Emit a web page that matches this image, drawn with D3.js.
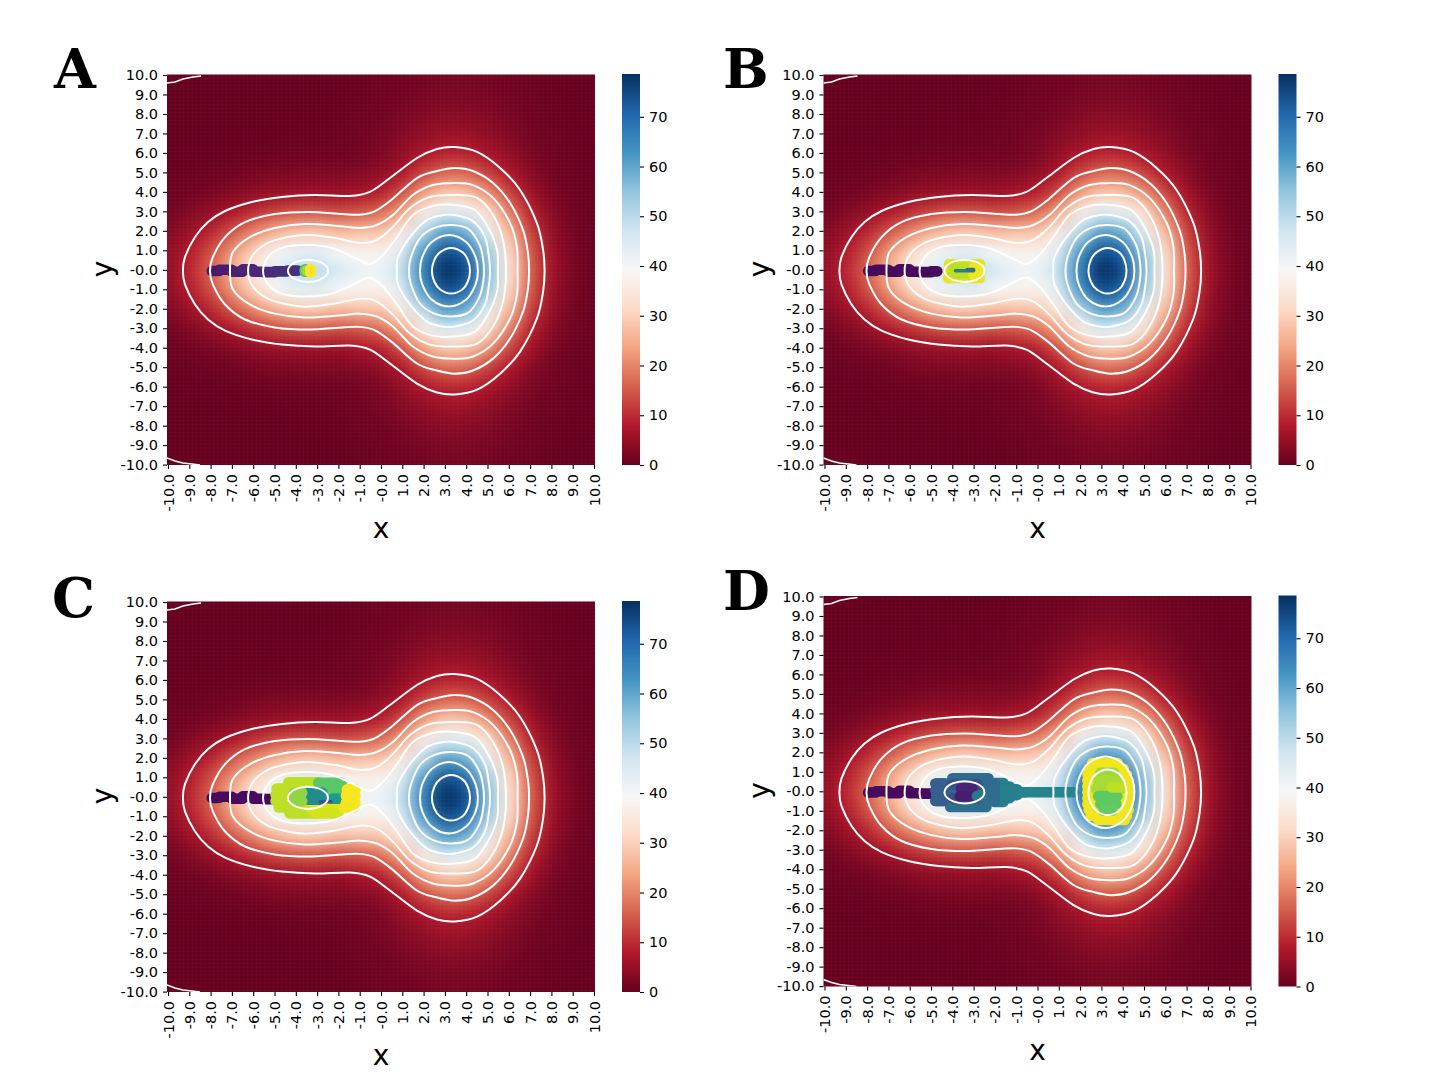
<!DOCTYPE html>
<html>
<head>
<meta charset="utf-8">
<script src="https://cdn.jsdelivr.net/npm/d3@7"></script>
<style>
  html, body { margin: 0; background: #fff; }
  svg { display: block; }
  text { font-family: "DejaVu Sans", sans-serif; fill: #000; }
  .tick line { stroke: #000; stroke-width: 1.1; }
  .tick text { font-size: 14.5px; }
</style>
</head>
<body>
<script>
// tick labels
var xTicks = d3.range(-10, 11);
var xTickLabels = ["-10.0","-9.0","-8.0","-7.0","-6.0","-5.0","-4.0","-3.0","-2.0","-1.0","-0.0",
                   "1.0","2.0","3.0","4.0","5.0","6.0","7.0","8.0","9.0","10.0"];
var yTicks = d3.range(10, -11, -1);
var yTickLabels = ["10.0","9.0","8.0","7.0","6.0","5.0","4.0","3.0","2.0","1.0","-0.0",
                   "-1.0","-2.0","-3.0","-4.0","-5.0","-6.0","-7.0","-8.0","-9.0","-10.0"];
var colorTicks = [0, 10, 20, 30, 40, 50, 60, 70];
var colorMax = 78.6;

// heat values on the lattice x = -10..10, for y = 0,1,..10 (the field is mirrored in y)
var heatRows = [
  [4.8,9.2,15.9,24.7,34.4,43.1,48.5,49.3,45.6,41.5,41.5,49.4,66.1,78.3,74,56.3,34,16.4,6.3,1.9,.45],
  [4.2,8.1,13.9,21.6,30.1,37.7,42.4,43.2,39.9,37.5,37.5,45.4,61.6,73.5,69.6,53.1,32.1,15.4,5.8,1.8,.4],
  [2.8,5.4,9.3,14.5,20.2,25.3,28.5,29,27,27.5,28.5,35.5,50.1,60.7,57.9,44.2,26.8,12.9,4.9,1.5,.36],
  [1.4,2.8,4.8,7.4,10.4,13,14.6,14.9,14,15,17.5,24.1,36,44.6,42.9,32.8,19.9,9.5,3.7,1.1,.27],
  [.6,1.1,1.9,2.9,4.1,5.1,5.7,5.9,5.7,7,9,14.5,23,29,28.1,21.6,13.1,6.3,2.4,.74,.18],
  [.2,.33,.6,1,1.8,2.2,2.4,2.5,2.5,3,4.5,7.9,13.2,16.9,16.5,12.7,7.7,3.7,1.4,.44,.1],
  [.05,.1,.15,.25,.4,.6,.8,.8,.9,1.3,2.4,4.5,7.2,9.2,9,7,4.4,2.2,.9,.3,.08],
  [0,.03,.05,.08,.1,.15,.2,.25,.4,1,1.8,3,4.4,5.4,5.3,4.2,2.8,1.4,.6,.2,.05],
  [0,0,0,.03,.05,.05,.08,.1,.2,.6,1,1.9,2.8,3.5,3.4,2.8,1.8,.9,.35,.12,.03],
  [0,0,0,0,0,0,.03,.05,.1,.4,.7,1.2,1.8,2.2,2.2,1.8,1.2,.6,.25,.08,.02],
  [0,0,0,0,0,0,0,.03,.05,.25,.5,.8,1.2,1.5,1.5,1.2,.8,.4,.15,.05,.01]
];

// white contours, upper half only: [x, y] from the left tip over the top to the right tip
var contour8 = [[-9.3,-.06],[-9.2,.66],[-8.73,1.68],[-8.12,2.45],[-7.32,3.02],[-6.06,3.48],[-4.65,3.74],[-3.1,3.84],[-1.46,3.79],[-.52,4],[.42,4.71],[1.69,5.74],[2.63,6.2],[3.47,6.3],[4.51,6.05],[5.59,5.23],[6.53,4.1],[7.32,2.4],[7.61,1.02],[7.68,-.06]];
var contour16 = [[-8.03,-.06],[-7.89,.66],[-7.32,1.68],[-6.38,2.45],[-4.98,2.86],[-3.43,2.97],[-1.83,2.86],[-1,2.83],[-.3,3],[.5,3.6],[1.69,4.71],[2.63,5.07],[3.47,5.23],[4.32,5.07],[5.26,4.46],[6.06,3.43],[6.67,2.04],[6.9,.86],[6.95,-.06]];
var contour24 = [[-7.09,-.06],[-6.95,.91],[-6.15,1.68],[-4.98,2.15],[-3.57,2.35],[-2.02,2.25],[-.99,2.15],[-.19,2.3],[.56,2.81],[1.5,3.84],[2.44,4.35],[3.47,4.46],[4.32,4.35],[5.26,3.69],[6.06,2.4],[6.38,1.17],[6.41,-.06]];
var contour32 = [[-6.24,-.06],[-6.01,.76],[-5.31,1.38],[-4.37,1.68],[-3.43,1.79],[-2.16,1.63],[-.99,1.38],[-.19,1.53],[.56,2.2],[1.36,3.17],[2.3,3.74],[3.47,3.84],[4.51,3.69],[5.26,2.81],[5.73,1.53],[5.87,-.06]];
var contour40 = [[-5.54,-.06],[-5.21,.76],[-4.51,1.17],[-3.43,1.27],[-2.3,1.12],[-1.22,.61],[-.52,.3],[.09,.76],[.75,1.68],[1.5,2.81],[2.44,3.28],[3.47,3.33],[4.41,3.07],[5.02,2.2],[5.45,1.02],[5.49,-.06]];
var contour48Left = [[-4.37,-.06],[-4.27,.2],[-3.96,.42],[-3.43,.52],[-2.9,.42],[-2.58,.2],[-2.49,-.06]];
var contour48Right = [[.75,-.06],[.8,.66],[1.36,1.68],[2.16,2.56],[2.91,2.81],[3.47,2.81],[4.32,2.5],[4.88,1.68],[5.07,.66],[5.12,-.06]];
var contour56 = [[1.31,-.06],[1.41,.66],[1.83,1.63],[2.5,2.15],[3.3,2.3],[4.1,2.1],[4.62,1.3],[4.8,.5],[4.84,-.06]];
var contour64 = [[1.83,-.06],[1.94,.66],[2.38,1.43],[3.2,1.79],[4,1.43],[4.44,.66],[4.55,-.06]];
var contour72 = [[2.39,-.06],[2.5,.5],[2.78,.91],[3.29,1.12],[3.82,.91],[4.08,.5],[4.18,-.06]];
var cornerTop = [[-10.05,9.59],[-9.67,9.64],[-9.3,9.79],[-8.83,9.9],[-8.45,9.95]];
var cornerBottom = [[-10.05,-9.66],[-9.67,-9.81],[-9.3,-9.92],[-8.88,-9.97],[-8.5,-10.02]];

// scatter bands: [x from, x to, y, colour value 0..1]
var stripsA = [[-7.95,-7.6,-.06,.07],[-7.6,-7,0,.08],[-7,-6.5,-.1,.09],[-6.5,-6,.02,.1],[-6,-5.5,-.1,.11],
  [-5.5,-5,-.12,.12],[-5,-4.4,-.08,.13],[-4.4,-3.9,-.04,.14],[-3.55,-3.58,.02,.72],[-3.55,-3.58,-.1,.72],
  [-3.5,-3.42,-.04,.85],[-3.32,-3.3,.04,1],[-3.32,-3.3,-.14,1]];
var trail = [[-7.95,-7.6,-.06,.03],[-7.6,-7,0,.03],[-7,-6.5,-.1,.03],[-6.5,-6,.02,.03],[-6,-5.5,-.1,.03],[-5.5,-5,-.12,.03]];
var stripsB = trail.concat([[-5,-4.7,-.08,.03],
  [-4.15,-2.7,.28,.95],[-4.2,-2.7,-.42,.97],[-4.2,-2.7,-.06,.94],
  [-3.95,-3.2,.12,.9],[-3.95,-3.1,-.22,.9],[-3,-2.72,.1,.98],[-3,-2.72,-.25,.98]]);
var thinB = [[-3.85,-3,-.05,.42],[-3.3,-3,.02,.36]];
var stripsC = trail.concat([
  [-4.35,-2.9,.75,.9],[-4.9,-2.7,.42,.9],[-4.95,-2.7,.1,.9],[-4.95,-2.7,-.22,.9],[-4.8,-3,-.55,.9],[-4.3,-3,-.85,.9],
  [-3.3,-1.7,-.55,.95],[-3.1,-2,-.85,.93],
  [-2.95,-1.85,.72,.74],[-2.9,-1.6,.4,.74],[-2.7,-1.5,.1,.74],
  [-3.4,-2.75,.2,.48],[-3.4,-2.75,-.15,.48],[-4.1,-3.7,.2,.83],[-4.1,-3.7,-.2,.83],
  [-2.3,-1.7,-.1,.55],[-1.6,-1.2,.38,.99],[-1.65,-1.2,.05,.99],[-1.65,-1.2,-.3,.99],[-1.75,-1.3,-.55,.98]]);
var thinC = [[-2.85,-2.35,-.25,.25]];
var stripsD = trail.concat([
  [-2,-1.6,.42,.42],[-2,-1.3,.25,.42],[-2,-.95,.1,.43],[-2,-.6,-.05,.44],[-2,-.95,-.2,.43],[-2,-1.3,-.35,.42],[-2,-1.6,-.55,.42],
  [-.7,1.7,-.05,.45],
  [-4,-2.3,.67,.35],[-4.75,-2,.4,.34],[-4.75,-2,.1,.35],[-4.75,-2,-.2,.35],[-4.75,-2,-.5,.35],[-4.1,-2.4,-.8,.36],
  [-4.8,-4.4,.4,.3],[-4.8,-4.4,.05,.3],[-4.8,-4.4,-.5,.3],
  [-4,-2.8,.35,.24],[-4,-2.8,-.35,.24],[-3.6,-3.05,.15,.1],[-3.65,-3.15,-.25,.08],[-2.85,-2.6,-.25,.4],
  [2.57,3.76,1.45,.98],[2.4,4.05,1.15,.98],[2.35,4.2,.85,.98],[2.34,4.28,.55,.98],[2.34,4.28,.25,.97],[2.34,4.28,-.05,.97],
  [2.34,4.28,-.35,.97],[2.34,4.28,-.65,.98],[2.4,4.28,-.95,.98],[2.5,4.2,-1.25,.98],[2.85,4.1,-1.47,.98],
  [2.95,3.6,.95,.85],[2.85,3.85,.55,.87],[2.75,3.95,.15,.87],[2.85,3.75,-.25,.75],[2.95,3.7,-.65,.75],[3.1,3.5,-1,.76],
  [3.5,3.95,.2,.9]]);

var svg = d3.select("body").append("svg").attr("width", 1440).attr("height", 1080);

var xScale = d3.scaleLinear().domain([-10, 10]).range([168, 594]);
var yScale = d3.scaleLinear().domain([10, -10]).range([75, 464.6]);
var barScale = d3.scaleLinear().domain([0, colorMax]).range([465, 74]);
var heatColor = d3.scaleLinear()
    .domain(d3.range(11).map(function(i) { return i * colorMax / 10; }))
    .range(d3.schemeRdBu[11]);

var yMid = -0.05;   // the field sits a touch below the zero tick

// paint the lattice small, let the canvas smooth it up, and use that as one image
var rows = heatRows.slice(1).reverse().concat(heatRows);
var small = document.createElement("canvas");
small.width = 21; small.height = 21;
var sctx = small.getContext("2d");
rows.forEach(function(row, j) {
  row.forEach(function(v, i) {
    sctx.fillStyle = heatColor(v);
    sctx.fillRect(i, j, 1, 1);
  });
});
var imgX = xScale(-10.5), imgY = yScale(10.5 + yMid);
var imgW = xScale(10.5) - imgX, imgH = yScale(-10.5 + yMid) - imgY;
var big = document.createElement("canvas");
big.width = Math.round(imgW) * 2; big.height = Math.round(imgH) * 2;
var bctx = big.getContext("2d");
bctx.imageSmoothingEnabled = true;
bctx.imageSmoothingQuality = "high";
bctx.drawImage(small, 0, 0, big.width, big.height);
var heatHref = big.toDataURL();

var defs = svg.append("defs");
var grad = defs.append("linearGradient").attr("id", "barGrad")
    .attr("x1", 0).attr("x2", 0).attr("y1", 1).attr("y2", 0);
grad.selectAll("stop").data(d3.schemeRdBu[11]).enter().append("stop")
    .attr("offset", function(d, i) { return i / 10; })
    .attr("stop-color", function(d) { return d; });
defs.append("clipPath").attr("id", "plotClip").append("rect")
    .attr("x", 167).attr("y", 74.5).attr("width", 428).attr("height", 390.5);

// faint cell grid that shows through the heatmap in the original
var cellGrid = defs.append("pattern").attr("id", "cellGrid")
    .attr("patternUnits", "userSpaceOnUse")
    .attr("width", 4.28).attr("height", 3.9);
cellGrid.append("path").attr("d", "M4.28 0V3.9M0 3.9H4.28")
    .attr("stroke", "#fff").attr("stroke-opacity", 0.07).attr("stroke-width", 0.6).attr("fill", "none");

var curveClosed = d3.line()
    .x(function(d) { return xScale(d[0]); })
    .y(function(d) { return yScale(d[1]); })
    .curve(d3.curveCatmullRomClosed.alpha(0));
var straight = d3.line()
    .x(function(d) { return xScale(d[0]); })
    .y(function(d) { return yScale(d[1]); });

function mirrored(half) {
  var lower = half.slice(1, -1).reverse().map(function(p) { return [p[0], 2 * yMid - p[1]]; });
  return half.concat(lower);
}

var closedContours = [contour8, contour16, contour24, contour32, contour40,
                      contour48Left, contour48Right, contour56, contour64, contour72];

function drawPanel(letter, letterX, letterY, dx, dy, labelY, strips, thin) {
  var g = svg.append("g").attr("transform", "translate(" + dx + "," + dy + ")");
  var plot = g.append("g").attr("clip-path", "url(#plotClip)");

  plot.append("image")
      .attr("href", heatHref)
      .attr("x", imgX).attr("y", imgY)
      .attr("width", imgW).attr("height", imgH)
      .attr("preserveAspectRatio", "none");
  plot.append("rect")
      .attr("x", 167).attr("y", 74.5).attr("width", 428).attr("height", 390.5)
      .attr("fill", "url(#cellGrid)");

  plot.selectAll("line.strip").data(strips).enter().append("line")
      .attr("class", "strip")
      .attr("x1", function(d) { return xScale(d[0]); })
      .attr("x2", function(d) { return xScale(d[1]); })
      .attr("y1", function(d) { return yScale(d[2]); })
      .attr("y2", function(d) { return yScale(d[2]); })
      .attr("stroke", function(d) { return d3.interpolateViridis(d[3]); })
      .attr("stroke-width", 10.6)
      .attr("stroke-linecap", "round");
  plot.selectAll("line.thin").data(thin).enter().append("line")
      .attr("class", "thin")
      .attr("x1", function(d) { return xScale(d[0]); })
      .attr("x2", function(d) { return xScale(d[1]); })
      .attr("y1", function(d) { return yScale(d[2]); })
      .attr("y2", function(d) { return yScale(d[2]); })
      .attr("stroke", function(d) { return d3.interpolateViridis(d[3]); })
      .attr("stroke-width", 3.5)
      .attr("stroke-linecap", "round");

  plot.selectAll("path.level").data(closedContours).enter().append("path")
      .attr("class", "level")
      .attr("d", function(d) { return curveClosed(mirrored(d)); })
      .attr("fill", "none").attr("stroke", "#fff").attr("stroke-width", 2);
  plot.selectAll("path.corner").data([cornerTop, cornerBottom]).enter().append("path")
      .attr("class", "corner")
      .attr("d", straight)
      .attr("fill", "none").attr("stroke", "#fff").attr("stroke-width", 1.6);

  var xAxis = d3.axisBottom(xScale).tickValues(xTicks).tickSize(4)
      .tickFormat(function(d, i) { return xTickLabels[i]; });
  var xg = g.append("g").attr("transform", "translate(0,465)").call(xAxis);
  xg.select(".domain").remove();
  xg.selectAll("text")
      .attr("transform", "rotate(-90)")
      .attr("text-anchor", "end")
      .attr("x", -9).attr("y", 0).attr("dy", ".35em");

  var yAxis = d3.axisLeft(yScale).tickValues(yTicks).tickSize(4).tickPadding(5)
      .tickFormat(function(d, i) { return yTickLabels[i]; });
  var yg = g.append("g").attr("transform", "translate(167,0)").call(yAxis);
  yg.select(".domain").remove();

  g.append("rect")
      .attr("x", 622).attr("y", 74).attr("width", 18).attr("height", 391)
      .attr("fill", "url(#barGrad)");
  var barAxis = d3.axisRight(barScale).tickValues(colorTicks).tickSize(4).tickPadding(5);
  var bg = g.append("g").attr("transform", "translate(640,0)").call(barAxis);
  bg.select(".domain").remove();

  g.append("text").attr("x", 381).attr("y", labelY)
      .attr("text-anchor", "middle").style("font-size", "28px").text("x");
  g.append("text").attr("transform", "translate(112,269) rotate(-90)")
      .attr("text-anchor", "middle").style("font-size", "28px").text("y");

  svg.append("text").attr("x", letterX).attr("y", letterY)
      .style("font-family", "'DejaVu Serif', serif").style("font-weight", "bold")
      .style("font-size", "54px").text(letter);
}

drawPanel("A", 54, 88, 0, 0, 538, stripsA, []);
drawPanel("B", 723, 88, 656.5, 0, 538, stripsB, thinB);
drawPanel("C", 52, 617, 0, 527, 538, stripsC, thinC);
drawPanel("D", 723, 610, 656.5, 521.5, 538, stripsD, []);
</script>
</body>
</html>
